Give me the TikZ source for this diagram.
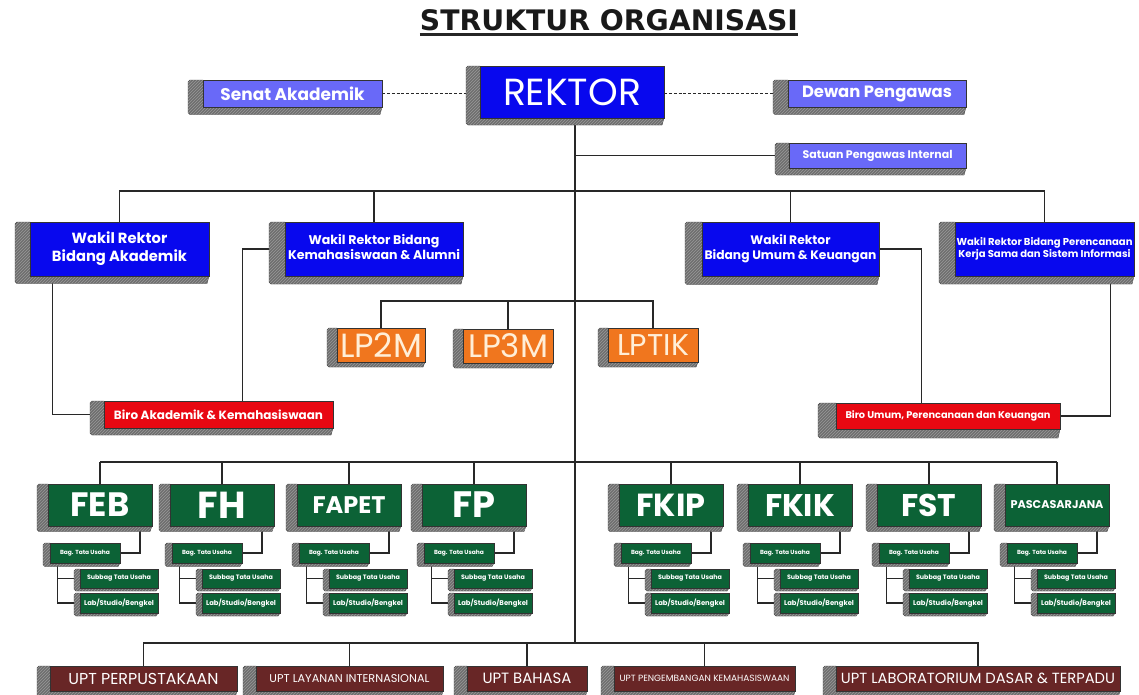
\documentclass[tikz,border=0pt]{standalone}
\usepackage{fontspec}
\usepackage{graphicx}
\setmainfont{Poppins}
\newfontfamily\titlefont{DejaVu Sans}
\usetikzlibrary{patterns,calc}
\pgfdeclarelayer{background}
\pgfsetlayers{background,main}

\definecolor{wrblue}{RGB}{8,8,238}
\definecolor{lavblue}{RGB}{105,105,248}
\definecolor{birored}{RGB}{232,8,18}
\definecolor{lporange}{RGB}{240,118,30}
\definecolor{lpcream}{RGB}{255,238,215}
\definecolor{facgreen}{RGB}{12,98,54}
\definecolor{uptmaroon}{RGB}{104,38,38}
\definecolor{sidegray}{RGB}{110,110,110}
\definecolor{linegray}{RGB}{40,40,40}

\tikzset{
  face/.style={draw=black!80, line width=0.5pt, inner sep=0pt, text=white, align=center, font=\bfseries},
  boxside/.style={fill=sidegray, draw=black!75, line width=0.4pt,
    postaction={pattern=north east lines, pattern color=black!40}},
  link/.style={draw=linegray, line width=1.4pt},
  dashlink/.style={draw=linegray, line width=1.4pt, dash pattern=on 3pt off 1.8pt},
}

% text fitted to a given width (in pt)
\newcommand\fw[2]{\resizebox{#1pt}{!}{#2}}
\newcommand\twol[2]{\begin{tabular}{@{}c@{}}#1\\#2\end{tabular}}

% raised box: name, x0, y0, x1, y1 (face), side width, face style, content
\newcommand\obox[8]{%
  \pgfmathsetmacro\oboxd{(#6)/2}%
  \path[boxside] ({(#2)-(#6)},{(#3)+2}) -- ({(#2)-(#6)+2},{#3}) -- ({#2},{#3})
    -- ({#2},{#5}) -- ({#4},{#5}) -- ({(#4)-2},{(#5)+\oboxd})
    -- ({(#2)-(#6)+2},{(#5)+\oboxd}) -- ({(#2)-(#6)},{(#5)+\oboxd-2}) -- cycle;
  \node[face,#7,minimum width={((#4)-(#2))*1pt},minimum height={((#5)-(#3))*1pt}]
    (#1) at ({((#2)+(#4))/2},{((#3)+(#5))/2}) {#8};
}

\begin{document}
\begin{tikzpicture}[x=1pt,y=-1pt]
\begin{pgfonlayer}{background}
  \fill[white] (0,0) rectangle (1139,694);
\end{pgfonlayer}
\useasboundingbox (0,0) rectangle (1139,694);

% title
\node[inner sep=0pt, font=\titlefont\bfseries, text=black!90] (title) at (609,20)
  {\fw{378}{STRUKTUR ORGANISASI}};
\draw[line width=2.4pt, black!85] ([yshift=-3.5pt]title.south west) -- ([yshift=-3.5pt]title.south east);

% top level
\obox{senat}{203}{80}{382}{107}{15}{fill=lavblue}{\fw{144}{Senat Akademik}}
\obox{rektor}{480}{66}{664}{118}{14}{fill=wrblue,font=\mdseries}{\fw{138}{REKTOR}}
\obox{dewan}{788}{80}{966}{107}{15}{fill=lavblue}{\fw{150}{Dewan Pengawas}}
\obox{spi}{789}{143}{966}{168}{14}{fill=lavblue}{\fw{150}{Satuan Pengawas Internal}}

% vice rectors
\obox{wr1}{30}{222}{209}{276}{15}{fill=wrblue}{\fw{135}{\twol{Wakil Rektor}{Bidang Akademik}}}
\obox{wr2}{285}{222}{463}{276}{16}{fill=wrblue}{\fw{172}{\twol{Wakil Rektor Bidang}{Kemahasiswaan \& Alumni}}}
\obox{wr3}{702}{222}{879}{276}{17}{fill=wrblue}{\fw{172}{\twol{Wakil Rektor}{Bidang Umum \& Keuangan}}}
\obox{wr4}{955}{222}{1134}{276}{16}{fill=wrblue}{\fw{176}{\twol{Wakil Rektor Bidang Perencanaan}{Kerja Sama dan Sistem Informasi}}}

% institutes
\obox{lp2m}{337}{328}{425}{362}{10}{fill=lporange,text=lpcream,font=\mdseries}{\fw{82}{LP2M}}
\obox{lp3m}{463}{329}{553}{363}{10}{fill=lporange,text=lpcream,font=\mdseries}{\fw{80}{LP3M}}
\obox{lptik}{608}{328}{698}{362}{10}{fill=lporange,text=lpcream,font=\mdseries}{\fw{72}{LPTIK}}

% bureaus
\obox{biroA}{104}{401}{333}{428}{14}{fill=birored}{\fw{209}{Biro Akademik \& Kemahasiswaan}}
\obox{biroU}{836}{403}{1060}{429}{18}{fill=birored}{\fw{205}{Biro Umum, Perencanaan dan Keuangan}}

% service units
\obox{upt1}{50}{666}{237}{691}{13}{fill=uptmaroon,font=\mdseries}{\fw{150}{UPT PERPUSTAKAAN}}
\obox{upt2}{256}{666}{443}{691}{13}{fill=uptmaroon,font=\mdseries}{\fw{160}{UPT LAYANAN INTERNASIONAL}}
\obox{upt3}{467}{666}{587}{691}{13}{fill=uptmaroon,font=\mdseries}{\fw{89}{UPT BAHASA}}
\obox{upt4}{614}{666}{795}{691}{13}{fill=uptmaroon,font=\mdseries}{\fw{170}{UPT PENGEMBANGAN KEMAHASISWAAN}}
\obox{upt5}{836}{666}{1120}{691}{13}{fill=uptmaroon,font=\mdseries}{\fw{274}{UPT LABORATORIUM DASAR \& TERPADU}}

% bus lines
\coordinate (wbus) at (575,191);
\coordinate (lpbus) at (575,301);
\coordinate (fbus) at (575,462);
\coordinate (ubus) at (575,643);

% faculties with their administrative units
\foreach \c/\n/\t/\w in {100/feb/FEB/59, 222/fh/FH/48, 349/fapet/FAPET/73, 474/fp/FP/43,
                         671/fkip/FKIP/69, 800/fkik/FKIK/70, 929/fst/FST/55, 1057/pasca/PASCASARJANA/93}{
  \obox{\n}{\c-52}{484}{\c+52}{526}{11}{fill=facgreen}{\fw{\w}{\t}}
  \obox{bag\n}{\c-50}{543}{\c+20}{563}{7}{fill=facgreen}{\fw{50}{Bag. Tata Usaha}}
  \obox{sub\n}{\c-20}{569}{\c+58}{588}{6}{fill=facgreen}{\fw{64}{Subbag Tata Usaha}}
  \obox{lab\n}{\c-20}{593}{\c+58}{613}{6}{fill=facgreen}{\fw{70}{Lab/Studio/Bengkel}}
  \begin{pgfonlayer}{background}
    \draw[link] (\n.north) -- (\n.north |- fbus);
    \draw[link] ([xshift=40pt]\n.south) |- (bag\n.east);
    \draw[link] ([xshift=8pt]bag\n.south west) |- ([xshift=-6pt]lab\n.west);
    \draw[link] ([xshift=8pt]bag\n.south west |- sub\n.west) -- ([xshift=-6pt]sub\n.west);
  \end{pgfonlayer}
}

\begin{pgfonlayer}{background}
  % advisory bodies
  \draw[dashlink] (senat.east) -- ([xshift=-14pt]rektor.west |- senat.east);
  \draw[dashlink] (rektor.east |- dewan.west) -- ([xshift=-15pt]dewan.west);
  % main trunk
  \draw[link] ([xshift=3pt]rektor.south) -- (ubus);
  \draw[link] (ubus |- spi.west) -- ([xshift=-14pt]spi.west);
  % vice rectors
  \draw[link] (wr1.north) |- (wbus) -| (wr4.north);
  \draw[link] (wr2.north) -- (wr2.north |- wbus);
  \draw[link] (wr3.north) -- (wr3.north |- wbus);
  % institutes
  \draw[link] (lp2m.north) |- (lpbus) -| (lptik.north);
  \draw[link] (lp3m.north) -- (lp3m.north |- lpbus);
  % bureaus
  \draw[link] ([xshift=23pt]wr1.south west) |- ([xshift=-14pt]biroA.west);
  \draw[link] ([xshift=-16pt]wr2.west) -| ([xshift=139pt]biroA.north west);
  \draw[link] (wr3.east) -| ([xshift=86pt]biroU.north west);
  \draw[link] ([xshift=-24pt]wr4.south east) |- (biroU.east);
  % faculty bus
  \draw[link] (feb.north |- fbus) -- (pasca.north |- fbus);
  % service units
  \draw[link] (upt1.north) |- (ubus) -| (upt5.north);
  \draw[link] (upt2.north) -- (upt2.north |- ubus);
  \draw[link] (upt3.north) -- (upt3.north |- ubus);
  \draw[link] (upt4.north) -- (upt4.north |- ubus);
\end{pgfonlayer}
\end{tikzpicture}
\end{document}
